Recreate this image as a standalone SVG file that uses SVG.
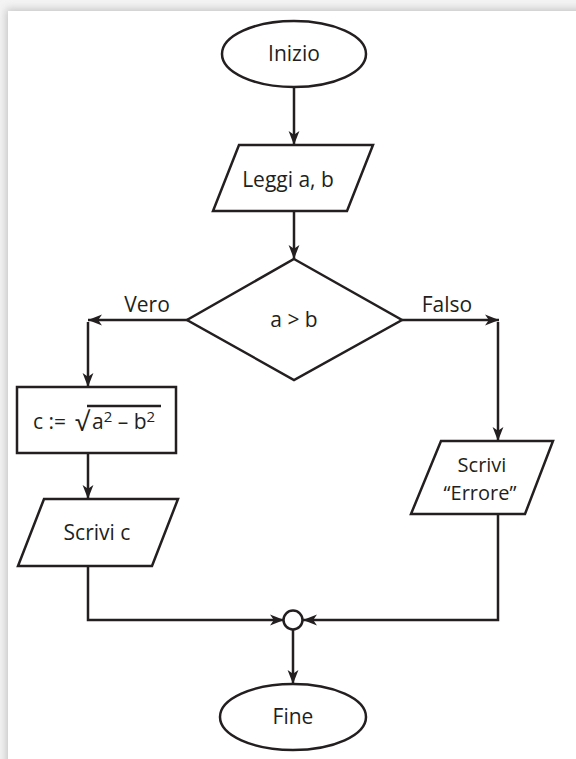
<svg xmlns="http://www.w3.org/2000/svg" width="576" height="759" viewBox="0 0 576 759">
  <style>
    .shape { fill: #ffffff; stroke: #231f20; stroke-width: 2.5; }
    .wire { fill: none; stroke: #231f20; stroke-width: 2.5; }
    .lbl { font-family: "Open Sans", "Noto Sans", sans-serif; font-size: 21px; fill: #231f20; text-anchor: middle; }
    .sup { font-size: 15px; }
  </style>
  <defs>
    <filter id="soft" x="-10%" y="-10%" width="120%" height="120%">
      <feGaussianBlur stdDeviation="4"/>
    </filter>
    <marker id="head" markerUnits="userSpaceOnUse" markerWidth="15" markerHeight="12" refX="14" refY="6" orient="auto">
      <path d="M0,0.6 L14,6 L0,11.4 L3.8,6 Z" fill="#231f20"/>
    </marker>
  </defs>

  <!-- page background with soft shadow behind the white sheet -->
  <rect x="0" y="0" width="576" height="759" fill="#f4f4f4"/>
  <rect x="6" y="9" width="600" height="800" fill="#c4c4c4" filter="url(#soft)"/>
  <rect x="8" y="11" width="568" height="748" fill="#ffffff"/>

  <!-- connectors -->
  <g id="connectors">
    <line class="wire" x1="294" y1="87" x2="294" y2="145" marker-end="url(#head)"/>
    <line class="wire" x1="294" y1="211" x2="294" y2="259" marker-end="url(#head)"/>
    <line class="wire" x1="188" y1="320" x2="88" y2="320" marker-end="url(#head)"/>
    <line class="wire" x1="88" y1="322" x2="88" y2="387" marker-end="url(#head)"/>
    <line class="wire" x1="402" y1="320" x2="499" y2="320" marker-end="url(#head)"/>
    <line class="wire" x1="498" y1="322" x2="498" y2="441" marker-end="url(#head)"/>
    <line class="wire" x1="88" y1="453" x2="88" y2="499" marker-end="url(#head)"/>
    <polyline class="wire" points="88,566 88,620 284,620" marker-end="url(#head)"/>
    <polyline class="wire" points="498,514 498,620 303,620" marker-end="url(#head)"/>
    <line class="wire" x1="293" y1="630" x2="293" y2="684" marker-end="url(#head)"/>
    <text class="lbl" x="147" y="312">Vero</text>
    <text class="lbl" x="447" y="312">Falso</text>
  </g>

  <g id="start">
    <ellipse class="shape" cx="294" cy="54" rx="72" ry="33"/>
    <text class="lbl" x="294" y="61">Inizio</text>
  </g>

  <g id="read">
    <polygon class="shape" points="239,145 373,145 347,211 213,211"/>
    <text class="lbl" x="288" y="187">Leggi a, b</text>
  </g>

  <g id="decision">
    <polygon class="shape" points="294,259 402,320 294,380 187,320"/>
    <text class="lbl" x="294" y="327">a &gt; b</text>
  </g>

  <g id="compute">
    <rect class="shape" x="17" y="387" width="159" height="66"/>
    <text class="lbl" x="33" y="429" style="text-anchor:start">c :=</text>
    <text class="lbl" x="75" y="431" style="text-anchor:start;font-size:26px">√</text>
    <line class="wire" x1="87" y1="406" x2="161" y2="406" stroke-width="2"/>
    <text class="lbl" x="92" y="429" style="text-anchor:start">a<tspan class="sup" dy="-7">2</tspan><tspan dy="7"> – b</tspan><tspan class="sup" dy="-7">2</tspan></text>
  </g>

  <g id="write-c">
    <polygon class="shape" points="44,499 178,499 152,566 18,566"/>
    <text class="lbl" x="97" y="540">Scrivi c</text>
  </g>

  <g id="write-error">
    <polygon class="shape" points="441,441 553,441 525,514 411,514"/>
    <text class="lbl" x="482" y="472" style="font-size:20px">Scrivi</text>
    <text class="lbl" x="480" y="500" style="font-size:20px">“Errore”</text>
  </g>

  <g id="join">
    <circle class="shape" cx="293" cy="620" r="9.5"/>
  </g>

  <g id="end">
    <ellipse class="shape" cx="293" cy="717" rx="73" ry="33"/>
    <text class="lbl" x="293" y="724">Fine</text>
  </g>
</svg>
